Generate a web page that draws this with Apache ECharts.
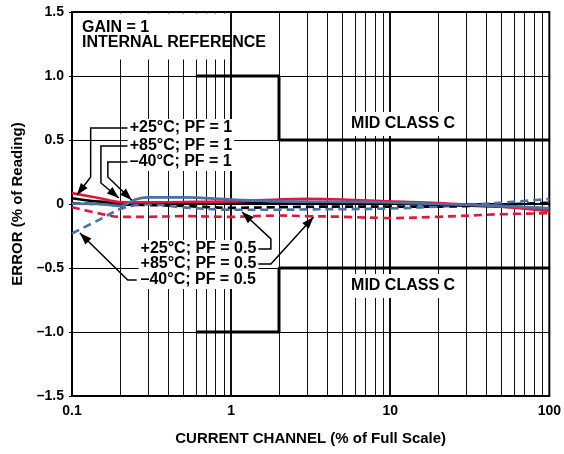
<!DOCTYPE html>
<html>
<head>
<meta charset="utf-8">
<script src="https://cdn.jsdelivr.net/npm/echarts@6/dist/echarts.min.js"></script>
<style>html,body{margin:0;padding:0;background:#fff}#c{width:564px;height:454px}</style>
</head>
<body>
<div id="c"></div>
<script>
// ---- data ----
var xCurrent = [0.1, 0.15, 0.2, 0.25, 0.3, 0.5, 1, 2, 3, 5, 10, 20, 50, 100];
var p25pf1   = [0.045, 0.018, 0.01, 0.01, 0.012, 0.012, 0.012, 0.01, 0.009, 0.008, 0.005, -0.005, -0.02, -0.035];
var p85pf1   = [0.085, 0.045, 0.015, 0.013, 0.013, 0.015, 0.02, 0.035, 0.04, 0.035, 0.02, 0.008, -0.02, -0.055];
var m40pf1   = [0.003, 0.0, -0.015, 0.035, 0.052, 0.052, 0.035, 0.02, 0.018, 0.017, 0.013, 0.0, -0.015, -0.033];
var p25pf05  = [0.005, 0.0, -0.005, -0.005, -0.008, -0.015, -0.03, -0.025, -0.022, -0.02, -0.02, -0.02, -0.005, 0.01];
var p85pf05  = [-0.025, -0.075, -0.1, -0.1, -0.1, -0.095, -0.1, -0.09, -0.095, -0.1, -0.11, -0.1, -0.08, -0.072];
var m40pf05  = [-0.23, -0.12, -0.04, -0.01, -0.003, -0.026, -0.045, -0.045, -0.042, -0.04, -0.035, -0.02, 0.01, 0.04];
var classUpper = [[0.6, 1.0], [2, 1.0], [2, 0.5], [100, 0.5]];
var classLower = [[0.6, -1.0], [2, -1.0], [2, -0.5], [100, -0.5]];
var minorGrid = [0.2,0.3,0.4,0.5,0.6,0.7,0.8,0.9,2,3,4,5,6,7,8,9,20,30,40,50,60,70,80,90];
var majorGrid = [1, 10];
var yTicks = [-1.5, -1.0, -0.5, 0, 0.5, 1.0, 1.5];

function pairs(ys){ return xCurrent.map(function(x,i){ return [x, ys[i]]; }); }

var RED = '#e3173d', BLUE = '#4a70a6', BLK = '#000';
var FONT = '"Liberation Sans", Arial, sans-serif';
var AFONT = 'bold 16px ' + FONT;

function curve(name, ys, color, dashed, z){
  return { name:name, type:'line', data:pairs(ys), smooth:0.35, showSymbol:false, symbol:'none',
    lineStyle:{ color:color, width:2.7, type: dashed ? [8,5] : 'solid' }, z:z, silent:true };
}

var gridLineData = minorGrid.map(function(v){ return { xAxis:v, lineStyle:{ width:1 } }; })
  .concat(majorGrid.map(function(v){ return { xAxis:v, lineStyle:{ width:2 } }; }));

var chart = echarts.init(document.getElementById('c'), null, { renderer:'canvas' });
chart.setOption({
  animation:false,
  backgroundColor:'#fff',
  grid:{ left:72, right:12, top:12, bottom:58, show:true, borderColor:'#000', borderWidth:2, backgroundColor:'transparent' },
  xAxis:{ type:'log', logBase:10, min:0.1, max:100,
    name:'CURRENT CHANNEL (% of Full Scale)', nameLocation:'middle', nameGap:35,
    nameTextStyle:{ fontFamily:FONT, fontWeight:'bold', fontSize:15, color:'#000' },
    axisLine:{ lineStyle:{ color:'#000', width:2 } }, axisTick:{ show:false },
    axisLabel:{ fontFamily:FONT, fontWeight:'bold', fontSize:14, color:'#000', margin:8,
      formatter:function(v){ return String(v); } },
    splitLine:{ show:false }, minorTick:{ show:false } },
  yAxis:{ type:'value', min:-1.5, max:1.5, interval:0.5,
    name:'ERROR (% of Reading)', nameLocation:'middle', nameGap:47,
    nameTextStyle:{ fontFamily:FONT, fontWeight:'bold', fontSize:15, color:'#000' },
    axisLine:{ lineStyle:{ color:'#000', width:2 } },
    axisTick:{ show:true, length:3, lineStyle:{ color:'#000' } },
    axisLabel:{ fontFamily:FONT, fontWeight:'bold', fontSize:14, color:'#000', margin:8,
      formatter:function(v){ if (Math.abs(v) < 1e-9) return '0'; var s = Math.abs(v).toFixed(1); return v < 0 ? '\u2013' + s : s; } },
    splitLine:{ show:true, lineStyle:{ color:'#000', width:1 } } },
  series:[
    { name:'classUpper', type:'line', data:classUpper, showSymbol:false, symbol:'none',
      lineStyle:{ color:BLK, width:3 }, z:3, silent:true,
      markLine:{ silent:true, symbol:['none','none'], label:{ show:false },
        lineStyle:{ color:'#111', type:'solid' }, data:gridLineData, z:1 } },
    { name:'classLower', type:'line', data:classLower, showSymbol:false, symbol:'none',
      lineStyle:{ color:BLK, width:3 }, z:3, silent:true },
    curve('+25°C; PF = 0.5', p25pf05, BLK, true, 4),
    curve('+85°C; PF = 0.5', p85pf05, RED, true, 5),
    curve('–40°C; PF = 0.5', m40pf05, BLUE, true, 6),
    curve('+25°C; PF = 1', p25pf1, BLK, false, 7),
    curve('+85°C; PF = 1', p85pf1, RED, false, 8),
    curve('–40°C; PF = 1', m40pf1, BLUE, false, 9)
  ]
});

// ---- annotations (data coordinates) ----
var notesPF1 = [
  { text:'+25°C; PF = 1', at:[0.224, 0.594], path:[[0.224,0.594],[0.131,0.594],[0.131,0.211],[0.1075,0.070]] },
  { text:'+85°C; PF = 1', at:[0.224, 0.453], path:[[0.224,0.453],[0.152,0.453],[0.152,0.164],[0.197,0.047]] },
  { text:'\u201340°C; PF = 1', at:[0.224, 0.328], path:[[0.224,0.328],[0.168,0.328],[0.168,0.211],[0.237,0.031]] }
];
var notesPF05 = [
  { text:'+25°C; PF = 0.5', at:[0.262, -0.352], path:[[1.45,-0.352],[1.778,-0.352],[1.778,-0.273],[1.171,-0.0625]] },
  { text:'+85°C; PF = 0.5', at:[0.262, -0.469], path:[[1.45,-0.469],[1.778,-0.469],[3.30,-0.1016]] },
  { text:'\u201340°C; PF = 0.5', at:[0.262, -0.594], path:[[0.255,-0.594],[0.224,-0.594],[0.112,-0.227]] }
];
var midLabels = [ { text:'MID CLASS C', at:[12.05, 0.625] }, { text:'MID CLASS C', at:[12.05, -0.64] } ];
var gainLines = [ { text:'GAIN = 1', at:[0.1155, 1.375] }, { text:'INTERNAL REFERENCE', at:[0.1155, 1.258] } ];

function px(p){ return chart.convertToPixel({ gridIndex:0 }, p); }
var g = [];
// white box behind top-left title
var tl = px([0.1, 1.5]), br = px([0.95, 1.14]);
g.push({ type:'rect', shape:{ x:tl[0]+1.5, y:tl[1]+1.5, width:br[0]-tl[0], height:br[1]-tl[1] }, style:{ fill:'#fff' }, z:50 });
gainLines.forEach(function(n){ var p = px(n.at);
  g.push({ type:'text', x:p[0], y:p[1], style:{ text:n.text, font:AFONT, fill:'#000', align:'left', verticalAlign:'middle' }, z:52 }); });

function arrow(path){
  var pts = path.map(px);
  g.push({ type:'polyline', shape:{ points:pts }, style:{ stroke:'#000', lineWidth:1.5, fill:null }, z:53 });
  var a = pts[pts.length-2], b = pts[pts.length-1];
  var dx = b[0]-a[0], dy = b[1]-a[1], L = Math.sqrt(dx*dx+dy*dy); dx/=L; dy/=L;
  var len = 12, hw = 4.3;
  var bx = b[0]-dx*len, by = b[1]-dy*len;
  g.push({ type:'polygon', shape:{ points:[[b[0],b[1]],[bx - dy*hw, by + dx*hw],[bx + dy*hw, by - dx*hw]] }, style:{ fill:'#000' }, z:54 });
}
function label(n, align){
  var p = px(n.at);
  g.push({ type:'text', x:p[0], y:p[1], style:{ text:n.text, font:AFONT, fill:'#000', align:align, verticalAlign:'middle',
    backgroundColor:'#fff', padding:[1,2,1,2] }, z:55 });
}
notesPF1.forEach(function(n){ arrow(n.path); label(n, 'left'); });
notesPF05.forEach(function(n){ arrow(n.path); label(n, 'left'); });
midLabels.forEach(function(n){ var p = px(n.at);
  g.push({ type:'text', x:p[0], y:p[1], style:{ text:n.text, font:AFONT, fill:'#000', align:'center', verticalAlign:'middle',
    backgroundColor:'#fff', padding:[4,3,4,3] }, z:55 }); });

chart.setOption({ graphic:{ elements:g } });
</script>
</body>
</html>
